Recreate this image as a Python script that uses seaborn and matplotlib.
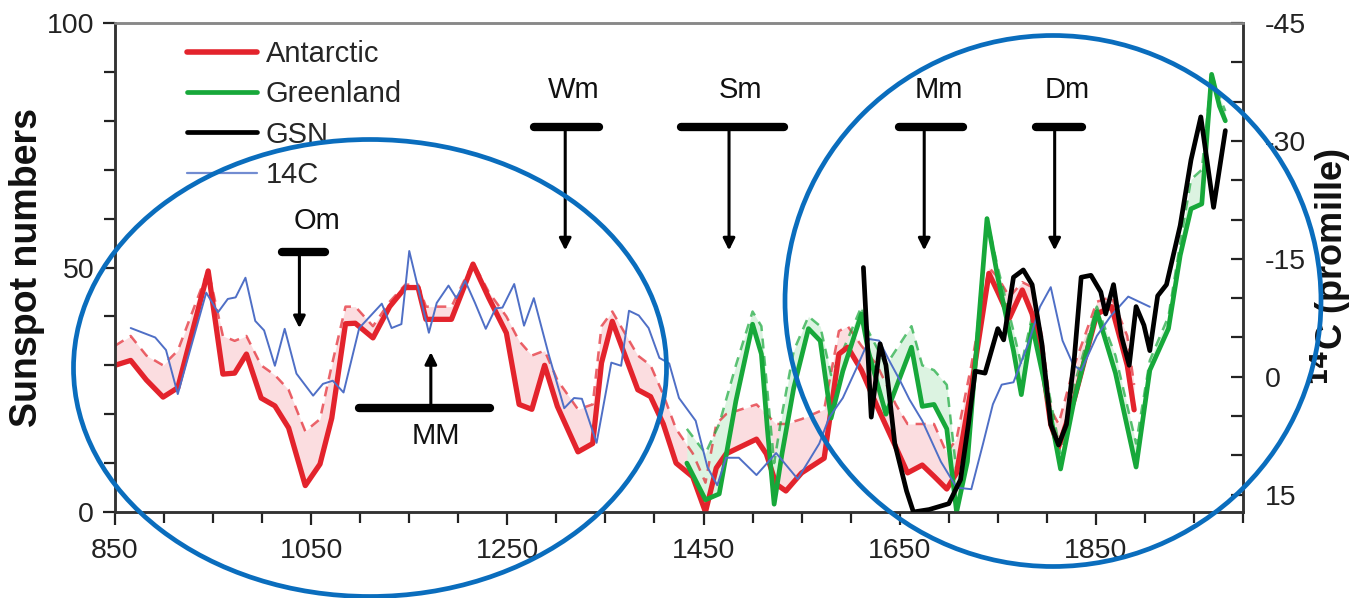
import numpy as np
import pandas as pd
import matplotlib
matplotlib.use("Agg")
import matplotlib.pyplot as plt
import seaborn as sns
from matplotlib.ticker import MultipleLocator
from matplotlib.lines import Line2D
from matplotlib.patches import Ellipse

# ---------------- data ----------------
ant_year = [850, 866, 882, 899, 914, 945, 960, 972, 984, 999, 1013, 1027, 1044, 1059, 1071,
            1085, 1095, 1113, 1130, 1146, 1159, 1167, 1193, 1215, 1231, 1249, 1262, 1275, 1288,
            1301, 1322, 1337, 1346, 1357, 1383, 1396, 1409, 1422, 1439, 1452, 1463, 1473, 1504,
            1514, 1524, 1534, 1550, 1573, 1588, 1597, 1611, 1627, 1646, 1658, 1673, 1685, 1698,
            1708, 1723, 1741, 1750, 1762, 1775, 1785, 1795, 1804, 1812, 1828, 1851, 1866, 1882, 1889]
ant_val = [30, 31, 27, 23.5, 25.4, 49.3, 28.2, 28.4, 32.3, 23.3, 21.7, 17.2, 5.4, 9.8, 19.2,
           38.5, 38.6, 35.6, 42, 45.9, 45.9, 39.4, 39.4, 50.7, 43.8, 36.6, 22, 21, 30,
           21.6, 12.3, 14, 30.5, 39, 25, 23.6, 18, 10, 7.2, 0, 9, 11.9, 14.9,
           11.9, 5.7, 4.3, 8, 11, 32.3, 33.7, 29, 21.6, 13.3, 8, 9.6, 7.3, 4.7,
           8, 25.4, 48.8, 45, 39.7, 45.4, 40.5, 30.7, 17.9, 13.3, 23.1, 40.5, 42, 30, 20.9]
ant_upper = [34, 36, 32, 30, 33, 49.5, 36, 35, 36, 30, 28, 25, 16.5, 19, 30,
             42, 42, 38, 43, 46.5, 46.5, 42, 42, 51, 45, 40, 35, 32, 33,
             27, 21, 22, 38, 41, 32, 30, 24, 17, 12, 6, 18, 20, 22,
             20, 18, 18, 19, 21, 37, 38, 34, 30, 22, 18, 18, 18, 12,
             15, 30, 50, 48, 44, 47, 46, 36, 21, 18, 30, 43, 44, 36, 26]

grn_year = [1433, 1452, 1466, 1483, 1500, 1509, 1515, 1522, 1530, 1542, 1557, 1569, 1580,
            1592, 1611, 1618, 1636, 1662, 1673, 1685, 1698, 1708, 1719, 1739, 1750, 1766,
            1774, 1785, 1797, 1814, 1828, 1851, 1870, 1891, 1905, 1924, 1936, 1947, 1958,
            1968, 1976, 1982]
grn_val = [10, 2.5, 3.7, 22.7, 38.4, 32.3, 17.2, 1.6, 11.9, 25.4, 37.5, 35, 19.2,
           28.8, 40.5, 32.9, 20, 33.7, 21.6, 22, 17, 0, 10.3, 60, 48, 33,
           24, 38.2, 27, 8.8, 23, 41, 28.4, 9.2, 29, 37.5, 52.5, 62, 63,
           89.5, 83, 80]
grn_upper = [17, 12, 18, 30, 41, 38, 25, 10, 20, 33, 40, 38, 28,
             33, 42, 37, 30, 38, 30, 29, 26, 8, 14, 60, 50, 37,
             30, 40, 30, 12, 26, 42, 32, 14, 31, 40, 55, 68, 70,
             89.5, 85, 82]

gsn_year = [1613, 1621, 1630, 1636, 1645, 1657, 1664, 1680, 1700, 1712, 1720, 1727, 1737,
            1750, 1756, 1766, 1776, 1785, 1795, 1804, 1812, 1820, 1828, 1835, 1845, 1855,
            1860, 1868, 1876, 1884, 1891, 1899, 1905, 1913, 1922, 1936, 1947, 1957, 1970, 1982]
gsn_val = [50, 19.4, 34.4, 30, 14, 4.3, 0, 0.5, 1.7, 6.6, 17.9, 28.8, 28.4,
           37.5, 35.2, 48, 49.5, 46.5, 34.4, 17.9, 13.7, 17.9, 31.4, 48, 48.4, 45,
           40.5, 46.5, 36, 30, 42, 38.2, 33, 44.2, 46.5, 58.6, 72, 80.8, 62.3, 78]

c14_year = [866, 891, 902, 914, 943, 955, 965, 973, 983, 993, 1002, 1013, 1023, 1035, 1052,
            1062, 1072, 1083, 1099, 1122, 1132, 1142, 1150, 1170, 1178, 1190, 1198, 1207,
            1217, 1228, 1238, 1245, 1257, 1267, 1277, 1292, 1308, 1318, 1326, 1341, 1356,
            1366, 1374, 1384, 1394, 1405, 1415, 1425, 1442, 1454, 1464, 1473, 1486, 1504,
            1524, 1546, 1568, 1578, 1592, 1606, 1619, 1629, 1640, 1650, 1660, 1673, 1692,
            1708, 1723, 1735, 1745, 1754, 1766, 1781, 1793, 1804, 1816, 1827, 1835, 1851,
            1865, 1883, 1905]
c14_val = [-6.2, -5.0, -3.4, 2.2, -10.7, -8.2, -9.9, -10.1, -12.6, -7.1, -5.9, -1.4, -6.1,
           -0.4, 2.4, 0.9, 0.5, 2.0, -6.2, -9.3, -6.2, -6.7, -16.0, -5.6, -9.4, -11.6,
           -10.0, -12.2, -9.4, -6.1, -8.7, -8.8, -11.8, -6.5, -10.0, -2.9, 4.0, 2.7, 2.8,
           8.4, -1.8, -1.4, -8.4, -7.8, -6.2, -2.4, -1.7, 2.7, 5.6, 11.5, 13.8, 10.3, 10.3,
           12.5, 9.7, 13.0, 8.5, 5.2, 2.7, -1.1, -4.8, -4.6, -1.9, 0.4, 2.9, 5.6, 10.8,
           14.1, 14.3, 8.5, 3.5, 1.0, 0.7, -4.2, -8.9, -11.4, -4.6, -1.5, -0.8, -5.2,
           -7.7, -10.2, -8.9]

minima_labels = ["Om", "Wm", "Sm", "Mm", "Dm"]
minima_bar_start = [1020, 1277, 1427, 1649, 1789]
minima_bar_end = [1064, 1343, 1532, 1715, 1836]
minima_arrow_x = [1038, 1309, 1476, 1675, 1808]
mm_bar = [1099, 1232]
mm_arrow_x = 1172

# ---------------- style ----------------
sns.set_style("ticks")
plt.rcParams['font.family'] = ['Liberation Sans', 'DejaVu Sans']
plt.rcParams['axes.unicode_minus'] = False
TICK_C = '#222222'

fig = plt.figure(figsize=(13.61, 5.98), dpi=100)
ax = fig.add_axes([115/1361, 1-512/598, 1128/1361, 489/598])
ax2 = ax.twinx()
ax3 = ax.twinx()

RED = '#e3232c'
GREEN = '#17a83a'
BLUE = '#4f6fc6'

ant = pd.DataFrame({"year": ant_year, "val": ant_val, "upper": ant_upper})
grn = pd.DataFrame({"year": grn_year, "val": grn_val, "upper": grn_upper})
gsn = pd.DataFrame({"year": gsn_year, "val": gsn_val})
c14 = pd.DataFrame({"year": c14_year, "val": c14_val})

# bands
ax.fill_between(ant["year"], ant["val"], ant["upper"], color='#fbdde0', lw=0, zorder=1)
ax.fill_between(grn["year"], grn["val"], grn["upper"], color='#dcf3e1', lw=0, zorder=1)
sns.lineplot(data=ant, x="year", y="upper", ax=ax, color=RED, lw=1.8, alpha=0.7,
             linestyle=(0, (4, 3)), zorder=2)
sns.lineplot(data=grn, x="year", y="upper", ax=ax, color=GREEN, lw=1.8, alpha=0.7,
             linestyle=(0, (4, 3)), zorder=2)
sns.lineplot(data=ant, x="year", y="val", ax=ax, color=RED, lw=3.8, zorder=3)
sns.lineplot(data=grn, x="year", y="val", ax=ax, color=GREEN, lw=3.4, zorder=3)

sns.lineplot(data=c14, x="year", y="val", ax=ax2, color=BLUE, lw=1.4)
sns.lineplot(data=gsn, x="year", y="val", ax=ax3, color='black', lw=3.4)

# axes limits / ticks
ax.set_xlim(850, 2000)
ax.set_ylim(0, 100)
ax2.set_ylim(17.2, -45)
ax3.set_ylim(0, 100)
ax3.axis('off')

ax.set_xticks([850, 1050, 1250, 1450, 1650, 1850])
ax.xaxis.set_minor_locator(MultipleLocator(50))
ax.set_yticks([0, 50, 100])
ax.yaxis.set_minor_locator(MultipleLocator(10))
ax.tick_params(axis='both', which='major', direction='out', length=9, width=1.6,
               labelsize=20.5, colors=TICK_C, pad=6)
ax.tick_params(axis='both', which='minor', direction='out', length=8, width=1.6, colors=TICK_C)
ax.tick_params(axis='x', pad=10)

ax2.set_yticks([-45, -30, -15, 0, 15])
ax2.yaxis.set_minor_locator(MultipleLocator(5))
ax2.tick_params(axis='y', which='major', direction='in', length=9, width=1.6,
                labelsize=20.5, colors=TICK_C, pad=16)
ax2.tick_params(axis='y', which='minor', direction='in', length=9, width=1.6, colors=TICK_C)

for a in (ax, ax2):
    for s in a.spines.values():
        s.set_linewidth(1.8)
        s.set_color('#333333')
        s.set_visible(True)
    a.spines['top'].set_color('#888888')

ax.set_xlabel("")
ax.set_ylabel("Sunspot numbers", fontsize=27, fontweight='bold', color='#111111')
ax.yaxis.set_label_coords(-0.062, 0.5)
ax2.set_ylabel(r"$\mathbf{^{14}}$C (promille)", fontsize=26, fontweight='bold', labelpad=2,
               color='#111111')

# annotations
BAR_Y = 78.7
for lab, x0, x1, xa in zip(minima_labels, minima_bar_start, minima_bar_end, minima_arrow_x):
    if lab == "Om":
        by, tip, ty = 53.2, 37.6, 59.5
    else:
        by, tip, ty = BAR_Y, 53.5, 86.2
    ax3.plot([x0, x1], [by, by], color='black', lw=6, solid_capstyle='round')
    ax3.annotate('', xy=(xa, tip), xytext=(xa, by),
                 arrowprops=dict(arrowstyle='-|>,head_length=0.7,head_width=0.35',
                                 lw=2.2, color='black', shrinkA=0, shrinkB=0))
    ax3.text((x0 + x1) / 2 + (8 if lab != "Om" else 14), ty, lab, ha='center', va='center',
             fontsize=21, color='#111111')
ax3.plot(mm_bar, [21.3, 21.3], color='black', lw=6, solid_capstyle='round')
ax3.annotate('', xy=(mm_arrow_x, 32.7), xytext=(mm_arrow_x, 21.3),
             arrowprops=dict(arrowstyle='-|>,head_length=0.7,head_width=0.35',
                             lw=2.2, color='black', shrinkA=0, shrinkB=0))
ax3.text(1177, 15.5, "MM", ha='center', va='center', fontsize=21, color='#111111')

# legend
handles = [Line2D([], [], color=RED, lw=4),
           Line2D([], [], color=GREEN, lw=3.4),
           Line2D([], [], color='black', lw=3.4),
           Line2D([], [], color=BLUE, lw=1.6, alpha=0.8)]
leg = ax3.legend(handles, ["Antarctic", "Greenland", "GSN", "14C"], loc='upper left',
                 bbox_to_anchor=(0.064, 0.965), frameon=False, fontsize=21,
                 handlelength=2.4, handletextpad=0.3, labelspacing=0.42, borderpad=0,
                 borderaxespad=0)

# circles (blue ellipses drawn over the figure)
fig.patches.append(Ellipse((370/1361, 1-368/598), 593/1361, 457/598, transform=fig.transFigure,
                           fill=False, ec='#0a6dbd', lw=3.4, zorder=10))
fig.patches.append(Ellipse((1053/1361, 1-301/598), 536/1361, 531/598, transform=fig.transFigure,
                           fill=False, ec='#0a6dbd', lw=3.4, zorder=10))

fig.savefig("out.png", dpi=100)
